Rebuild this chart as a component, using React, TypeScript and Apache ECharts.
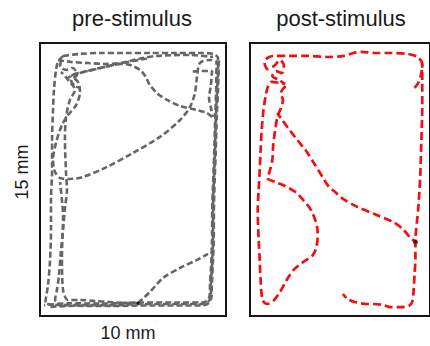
import React, { useEffect, useRef } from "react";
import * as echarts from "echarts";

// Arena size (mm)
const arenaWidth = 10;
const arenaHeight = 15;

// Titles and axis labels
const panelTitles = ["pre-stimulus", "post-stimulus"];
const widthLabel = "10 mm";
const heightLabel = "15 mm";

// ---------- pre-stimulus trajectory segments (x mm, y mm) ----------
const preOuterLoop = [
  [1.24, 14.29], [2.15, 14.4], [3.23, 14.45], [4.57, 14.45], [5.91, 14.45], [7.26, 14.45],
  [8.6, 14.45], [9.3, 14.4], [9.57, 14.18], [9.57, 13.52], [9.52, 12.42], [9.46, 10.93],
  [9.41, 9.12], [9.35, 7.47], [9.3, 5.82], [9.3, 4.18], [9.25, 2.8], [9.19, 1.7],
  [9.19, 1.1], [9.03, 0.77], [8.71, 0.66], [7.53, 0.66], [6.45, 0.66], [5.38, 0.66],
  [4.3, 0.6], [3.23, 0.6], [2.15, 0.6], [1.08, 0.6], [0.38, 0.66],
];
const preRightWallB = [
  [9.49, 13.96], [9.47, 12.4], [9.42, 10.9], [9.37, 9.1], [9.31, 7.45], [9.26, 5.8],
  [9.25, 4.2], [9.2, 2.8], [9.14, 1.72], [9.12, 1.12], [8.98, 0.82], [8.7, 0.74],
  [7.53, 0.74], [5.38, 0.74], [3.23, 0.68], [1.61, 0.7], [0.54, 0.62], [0.22, 0.6],
];
const preRightWallC = [
  [9.62, 14.2], [9.57, 12.4], [9.5, 10.9], [9.45, 9.1], [9.39, 7.45], [9.35, 5.8],
  [9.34, 4.2], [9.29, 2.8], [9.24, 1.7], [9.22, 1.05], [9.06, 0.7], [8.7, 0.58],
  [5.91, 0.58], [3.76, 0.55], [1.88, 0.56], [0.5, 0.5],
];
const preLeftOuter = [
  [1.24, 14.29], [0.97, 13.96], [0.86, 13.52], [0.75, 12.42], [0.7, 11.32], [0.65, 9.67],
  [0.65, 8.02], [0.59, 6.37], [0.59, 4.73], [0.54, 3.08], [0.43, 1.7], [0.32, 0.99],
  [0.27, 0.66],
];
const preLeftInner = [
  [1.13, 13.41], [1.51, 12.97], [1.88, 12.42], [1.61, 11.87], [1.4, 10.93], [1.34, 9.67],
  [1.4, 7.86], [1.45, 6.92], [1.34, 5.93], [1.24, 4.73], [1.13, 3.63], [1.02, 2.25],
  [0.91, 1.43], [0.81, 0.88], [1.08, 0.66],
];
const preBigCurve = [
  [5.91, 14.18], [4.46, 13.9], [3.23, 13.63], [2.15, 13.35], [1.72, 13.19], [2.04, 12.86],
  [2.15, 12.31], [1.94, 11.59], [1.51, 11.04], [1.18, 10.49], [0.86, 9.51], [0.7, 8.57],
  [0.81, 7.91], [1.08, 7.58], [1.61, 7.53], [2.31, 7.64], [3.6, 8.19], [5.0, 8.96],
  [6.45, 9.84], [7.53, 10.77], [8.06, 11.48], [8.33, 12.25], [8.44, 13.13], [8.6, 13.9],
  [9.14, 14.07], [9.57, 13.96],
];
const preTopSecond = [
  [0.97, 14.07], [1.67, 13.96], [2.58, 13.9], [3.49, 13.85], [4.35, 13.9], [5.27, 14.12],
  [6.29, 14.29], [8.06, 14.34], [9.3, 14.23],
];
const preTopCurve = [
  [1.51, 13.08], [1.88, 13.3], [2.58, 13.46], [3.49, 13.68], [4.35, 13.85], [4.84, 13.79],
  [5.38, 13.52], [5.65, 13.19], [5.91, 12.69], [6.34, 12.2], [6.83, 11.87], [7.53, 11.54],
  [8.44, 11.32], [8.98, 11.15], [9.3, 10.88],
];
const preTopRight = [
  [8.06, 13.41], [8.6, 13.46], [9.25, 13.46], [9.19, 12.69], [9.09, 11.98], [9.19, 11.43],
  [9.3, 10.93],
];
const preLowerDiagonal = [
  [5.27, 0.71], [5.91, 1.32], [6.61, 2.09], [7.53, 2.64], [8.44, 3.08], [9.03, 3.41],
];
const preLowerLeft = [
  [1.08, 7.36], [1.18, 6.37], [1.24, 5.55], [1.18, 3.19], [1.24, 1.43], [1.51, 0.88],
  [2.15, 0.88], [2.96, 0.82], [3.76, 0.77], [4.57, 0.71], [5.27, 0.71],
];
const preCornerLoop = [
  [1.18, 14.18], [1.08, 13.74], [1.4, 13.52], [1.77, 13.63], [1.99, 13.24], [1.67, 12.97],
  [1.88, 12.64], [2.2, 12.53],
];
const preStart = [[5.27, 0.71]];

// ---------- post-stimulus trajectory segments (x mm, y mm) ----------
const postLeftLoop = [
  [9.14, 12.53], [9.35, 12.8], [9.52, 13.35], [9.57, 13.85], [9.3, 14.23], [8.76, 14.4],
  [7.8, 14.45], [6.99, 14.45], [6.18, 14.51], [5.75, 14.45], [5.22, 14.29], [4.3, 14.23],
  [3.23, 14.29], [2.15, 14.29], [1.34, 14.29], [0.97, 14.18], [0.81, 13.9], [0.97, 13.57],
  [1.34, 13.74], [1.67, 14.07], [1.88, 13.74], [1.77, 13.35], [1.45, 13.46], [1.24, 13.19],
  [1.61, 12.97], [1.94, 12.75], [1.67, 12.8], [1.18, 12.86], [0.97, 12.53], [0.86, 12.03],
  [0.75, 11.32], [0.65, 10.22], [0.59, 9.12], [0.54, 8.02], [0.48, 6.92], [0.43, 5.82],
  [0.48, 4.18], [0.54, 3.08], [0.59, 1.98], [0.7, 0.88], [0.97, 0.66], [1.34, 0.88],
  [1.67, 1.32], [2.04, 1.98], [2.42, 2.53], [2.96, 2.97], [3.49, 3.35], [3.71, 3.85],
  [3.76, 4.62], [3.66, 5.16], [3.39, 5.82], [2.96, 6.37], [2.53, 6.81], [1.94, 7.14],
  [1.4, 7.36], [0.97, 7.58], [1.08, 7.91], [1.24, 8.57], [1.29, 9.4], [1.4, 10.22],
  [1.51, 10.88], [1.72, 11.43], [1.83, 11.87], [1.72, 12.25], [1.88, 12.53], [2.15, 12.75],
];
const postDiagonal = [
  [1.51, 11.15], [1.83, 10.71], [2.2, 10.22], [2.63, 9.67], [3.12, 9.07], [3.55, 8.41],
  [4.03, 7.64], [4.35, 7.14], [4.73, 6.81], [5.11, 6.48], [5.97, 5.99], [7.04, 5.55],
  [7.96, 5.16], [8.49, 4.78], [8.87, 4.34], [9.19, 4.07],
];
const postRightBottom = [
  [9.57, 13.85], [9.57, 12.97], [9.57, 11.48], [9.52, 9.67], [9.46, 7.75], [9.35, 5.93],
  [9.19, 4.07], [9.19, 3.19], [9.14, 2.25], [9.09, 1.43], [9.03, 0.82], [8.82, 0.55],
  [8.33, 0.49], [7.8, 0.49], [7.42, 0.6], [6.88, 0.66], [6.51, 0.66], [5.81, 0.77],
  [5.43, 0.93], [5.16, 1.21],
];
const postStart = [[9.19, 4.07]];

const preSegments = [
  preOuterLoop, preRightWallB, preRightWallC, preLeftOuter, preLeftInner, preBigCurve,
  preTopSecond, preTopCurve, preTopRight, preLowerDiagonal, preLowerLeft, preCornerLoop,
];
const postSegments = [postLeftLoop, postDiagonal, postRightBottom];

const FONT = "'Liberation Sans', Arial, sans-serif";

export default function App() {
  const ref = useRef<HTMLDivElement>(null);
  useEffect(() => {
    document.body.style.margin = "0";
    const chart = echarts.init(ref.current!, null, { renderer: "svg" });
    const mkLine = (data: number[][], idx: number, color: string, width: number, dash: number[], offset: number) => ({
      type: "line",
      xAxisIndex: idx,
      yAxisIndex: idx,
      data,
      symbol: "none",
      showSymbol: false,
      smooth: 0.3,
      silent: true,
      lineStyle: { color, width, type: dash, dashOffset: offset, cap: "butt" },
    });
    const axisBase = { show: false };
    chart.setOption({
      animation: false,
      grid: [
        { left: 40, top: 43, width: 186, height: 273, show: true, borderColor: "#151515", borderWidth: 2, backgroundColor: "#fff" },
        { left: 250, top: 43, width: 186, height: 273, show: true, borderColor: "#151515", borderWidth: 2, backgroundColor: "#fff" },
      ],
      xAxis: [
        { type: "value", min: 0, max: arenaWidth, gridIndex: 0, ...axisBase },
        { type: "value", min: 0, max: arenaWidth, gridIndex: 1, ...axisBase },
      ],
      yAxis: [
        { type: "value", min: 0, max: arenaHeight, gridIndex: 0, ...axisBase },
        { type: "value", min: 0, max: arenaHeight, gridIndex: 1, ...axisBase },
      ],
      series: [
        ...preSegments.map((s, i) => mkLine(s, 0, "#666666", 2.6, [6, 3], (i * 3) % 9)),
        ...postSegments.map((s, i) => mkLine(s, 1, "#f01010", 2.7, [8, 4], i * 2)),
        {
          type: "scatter", xAxisIndex: 0, yAxisIndex: 0, data: preStart,
          symbolSize: 3, itemStyle: { color: "#000" }, silent: true, z: 5,
        },
        {
          type: "scatter", xAxisIndex: 1, yAxisIndex: 1, data: postStart,
          symbolSize: 5, itemStyle: { color: "#600000" }, silent: true, z: 5,
        },
      ],
      graphic: [
        { type: "text", x: 132, y: 18, style: { text: panelTitles[0], font: `22px ${FONT}`, fill: "#1a1a1a", align: "center", verticalAlign: "middle" } },
        { type: "text", x: 341, y: 18, style: { text: panelTitles[1], font: `22px ${FONT}`, fill: "#1a1a1a", align: "center", verticalAlign: "middle" } },
        { type: "text", x: 128, y: 333, style: { text: widthLabel, font: `18px ${FONT}`, fill: "#1a1a1a", align: "center", verticalAlign: "middle" } },
        { type: "text", x: 22, y: 172, rotation: Math.PI / 2, style: { text: heightLabel, font: `18px ${FONT}`, fill: "#1a1a1a", align: "center", verticalAlign: "middle" } },
      ],
    });
    return () => chart.dispose();
  }, []);
  return <div ref={ref} style={{ width: 430, height: 346 }} />;
}
